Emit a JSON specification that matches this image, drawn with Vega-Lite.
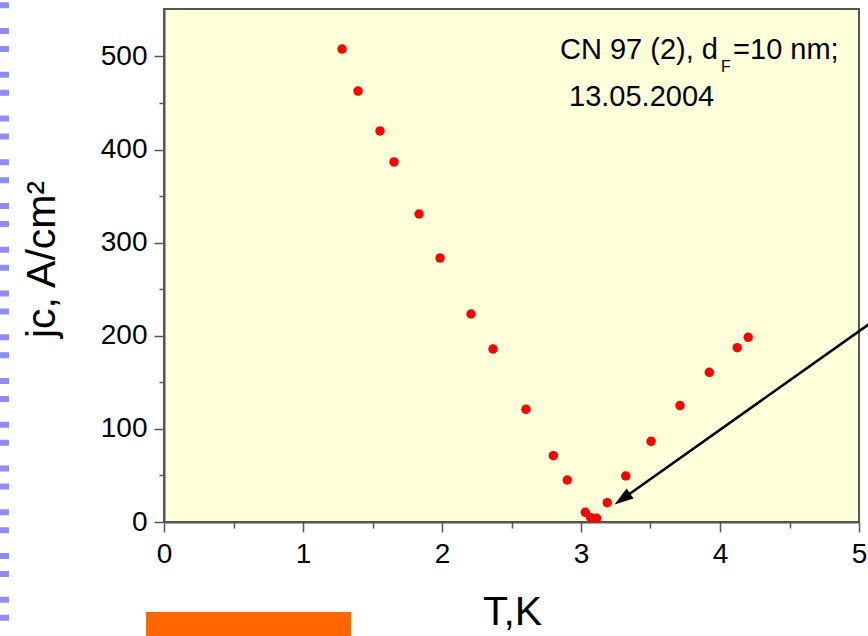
{
  "$schema": "https://vega.github.io/schema/vega-lite/v6.json",
  "width": 695,
  "height": 513,
  "autosize": {"type": "none"},
  "padding": {"left": 164, "top": 9, "right": 9, "bottom": 114},
  "background": "white",
  "config": {
    "font": "Liberation Sans",
    "view": {"fill": "#ffffd9", "stroke": "#555555", "strokeWidth": 2}
  },
  "datasets": {
    "points": [
      {"x": 1.281, "y": 508.0},
      {"x": 1.396, "y": 462.9},
      {"x": 1.554, "y": 420.0},
      {"x": 1.655, "y": 386.7},
      {"x": 1.835, "y": 330.8},
      {"x": 1.986, "y": 283.6},
      {"x": 2.209, "y": 223.4},
      {"x": 2.367, "y": 185.8},
      {"x": 2.604, "y": 121.0},
      {"x": 2.801, "y": 71.2},
      {"x": 2.901, "y": 45.1},
      {"x": 3.031, "y": 10.4},
      {"x": 3.070, "y": 4.6},
      {"x": 3.113, "y": 4.0},
      {"x": 3.189, "y": 20.7},
      {"x": 3.322, "y": 49.4},
      {"x": 3.504, "y": 86.7},
      {"x": 3.712, "y": 125.1},
      {"x": 3.923, "y": 160.8},
      {"x": 4.124, "y": 187.2},
      {"x": 4.203, "y": 198.4}
    ],
    "arrow": [
      {"x": 5.086, "y": 214.0, "o": 0},
      {"x": 3.300, "y": 24.9, "o": 1}
    ],
    "arrowTip": [{"x": 3.241, "y": 18.8}],
    "labelsRight": [{"x": 3.985, "y": 497.3, "t": "CN 97 (2), d"}],
    "labels": [
      {"x": 4.094, "y": 497.3, "t": "=10 nm;"},
      {"x": 2.914, "y": 446.8, "t": "13.05.2004"}
    ],
    "subs": [{"x": 4.008, "y": 483.3, "t": "F"}],
    "edge": [{"x": -1.1475, "y": 577.6, "y2": -126.7}],
    "bar": [{"x": -0.1295, "x2": 1.345, "y": -96.7, "y2": -126.7}]
  },
  "encoding": {
    "x": {
      "field": "x",
      "type": "quantitative",
      "scale": {"domain": [0, 5], "nice": false, "zero": false},
      "axis": {
        "values": [0, 0.5, 1, 1.5, 2, 2.5, 3, 3.5, 4, 4.5, 5],
        "labelExpr": "datum.value % 1 === 0 ? format(datum.value, 'd') : ''",
        "tickSize": {"condition": {"test": "datum.value % 1 === 0", "value": 10}, "value": 6},
        "tickColor": "#555555",
        "tickWidth": 1.5,
        "domainColor": "#555555",
        "domainWidth": 2,
        "grid": false,
        "labelFontSize": 28,
        "labelColor": "black",
        "labelPadding": 8,
        "labelFlush": false,
        "labelOverlap": false,
        "title": "T,K",
        "titleFontSize": 41,
        "titleFontWeight": "normal",
        "titleColor": "black",
        "titleBaseline": "alphabetic",
        "titleX": 348,
        "titleY": 102
      }
    },
    "y": {
      "field": "y",
      "type": "quantitative",
      "scale": {"domain": [0, 551], "nice": false, "zero": false},
      "axis": {
        "values": [0, 50, 100, 150, 200, 250, 300, 350, 400, 450, 500],
        "labelExpr": "datum.value % 100 === 0 ? format(datum.value, 'd') : ''",
        "tickSize": {"condition": {"test": "datum.value % 100 === 0", "value": 10}, "value": 5},
        "tickColor": "#555555",
        "tickWidth": 1.5,
        "domainColor": "#555555",
        "domainWidth": 2,
        "grid": false,
        "labelFontSize": 28,
        "labelColor": "black",
        "labelPadding": 7,
        "labelFlush": false,
        "labelOverlap": false,
        "title": "jc, A/cm²",
        "titleFontSize": 41,
        "titleFontWeight": "normal",
        "titleColor": "black",
        "titleBaseline": "alphabetic",
        "titleX": -110,
        "titleY": 250
      }
    }
  },
  "layer": [
    {
      "data": {"name": "edge"},
      "mark": {"type": "rule", "color": "#8c8cff", "strokeWidth": 9, "strokeDash": [6, 12, 6, 19.75]},
      "encoding": {"y2": {"field": "y2"}}
    },
    {
      "data": {"name": "bar"},
      "mark": {"type": "rect", "color": "#ff6600"},
      "encoding": {"x2": {"field": "x2"}, "y2": {"field": "y2"}}
    },
    {
      "data": {"name": "points"},
      "mark": {"type": "circle", "color": "#ff0000", "size": 90, "opacity": 1}
    },
    {
      "data": {"name": "arrow"},
      "mark": {"type": "line", "color": "black", "strokeWidth": 2.5},
      "encoding": {"order": {"field": "o", "type": "quantitative"}}
    },
    {
      "data": {"name": "arrowTip"},
      "mark": {"type": "point", "shape": "M0,0L0.7,2.2L-0.7,2.2Z", "filled": true, "color": "black", "opacity": 1, "size": 300, "angle": 235}
    },
    {
      "data": {"name": "labelsRight"},
      "mark": {"type": "text", "align": "right", "baseline": "alphabetic", "fontSize": 29, "color": "black"},
      "encoding": {"text": {"field": "t"}}
    },
    {
      "data": {"name": "labels"},
      "mark": {"type": "text", "align": "left", "baseline": "alphabetic", "fontSize": 29, "color": "black"},
      "encoding": {"text": {"field": "t"}}
    },
    {
      "data": {"name": "subs"},
      "mark": {"type": "text", "align": "left", "baseline": "alphabetic", "fontSize": 16, "color": "black"},
      "encoding": {"text": {"field": "t"}}
    }
  ]
}
